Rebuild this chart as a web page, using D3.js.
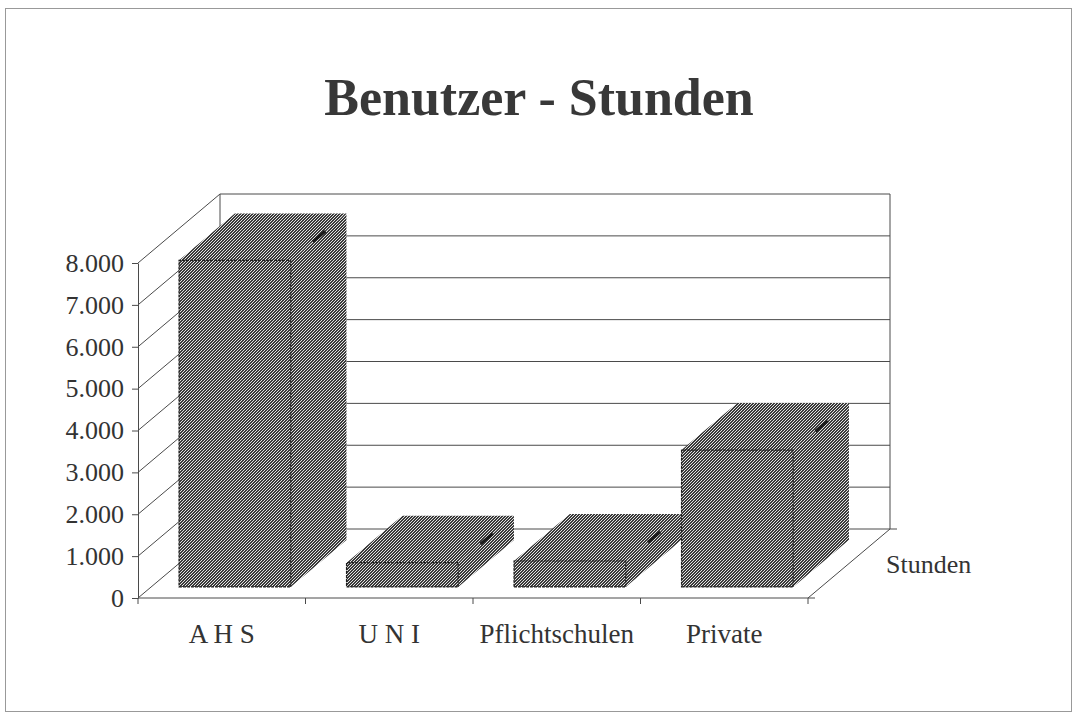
<!DOCTYPE html>
<html>
<head>
<meta charset="utf-8">
<script src="https://cdn.jsdelivr.net/npm/d3@7"></script>
<style>
  body { margin: 0; background: #fff; }
  text { font-family: "Liberation Serif", "Times New Roman", serif; fill: #333; }
</style>
</head>
<body>
<svg id="chart" width="1074" height="716"></svg>
<script>
// data
const categories = ['A H S', 'U N I', 'Pflichtschulen', 'Private'];
const stunden = [7800, 580, 620, 3270];
const seriesName = 'Stunden';
const yTicks = [0, 1000, 2000, 3000, 4000, 5000, 6000, 7000, 8000];
const title = 'Benutzer - Stunden';

const svg = d3.select('#chart');

// frame
svg.append('rect')
  .attr('x', 5.5).attr('y', 8.5)
  .attr('width', 1066).attr('height', 703)
  .attr('fill', 'none')
  .attr('stroke', '#999');

// hatch pattern ("/" lines, pixel aligned)
const defs = svg.append('defs');
const pat = defs.append('pattern')
  .attr('id', 'hatch')
  .attr('patternUnits', 'userSpaceOnUse')
  .attr('width', 3).attr('height', 3);
pat.append('rect').attr('width', 3).attr('height', 3).attr('fill', '#e2e2e2');
for (let px = 0; px < 3; px++) {
  for (let py = 0; py < 3; py++) {
    if ((px + py) % 3 !== 2) {
      pat.append('rect')
        .attr('x', px).attr('y', py).attr('width', 1).attr('height', 1)
        .attr('fill', '#3a3a3a')
        .attr('shape-rendering', 'crispEdges');
    }
  }
}

// 3D layout
const DX = 82, DY = -69;      // depth vector of the plot box
const zFront = 0.16, zBack = 0.84;  // depth span of the bars

const y = d3.scaleLinear().domain([0, 8000]).range([598, 263]);
const xCat = d3.scaleBand().domain(categories).range([138, 808]);
const xBar = d3.scaleBand().domain(categories).range([138, 808])
  .paddingInner(1 / 3).paddingOuter(1 / 6);

const P = (x, v, z) => [x + z * DX, y(v) + z * DY];
const poly = pts => 'M' + pts.map(p => p.join(',')).join('L') + 'Z';

const x0 = 138, x1 = 808;
const lineColor = '#4a4a4a';

const walls = svg.append('g').attr('class', 'walls')
  .attr('stroke', lineColor).attr('stroke-width', 1).attr('fill', 'none');

// back wall gridlines
walls.selectAll('line.back-grid')
  .data(yTicks)
  .join('line')
  .attr('class', 'back-grid')
  .attr('x1', P(x0, 0, 1)[0]).attr('x2', P(x1, 0, 1)[0])
  .attr('y1', d => P(x0, d, 1)[1]).attr('y2', d => P(x1, d, 1)[1]);

// side wall gridlines
walls.selectAll('line.side-grid')
  .data(yTicks)
  .join('line')
  .attr('class', 'side-grid')
  .attr('x1', d => P(x0, d, 0)[0]).attr('y1', d => P(x0, d, 0)[1])
  .attr('x2', d => P(x0, d, 1)[0]).attr('y2', d => P(x0, d, 1)[1]);

// back wall vertical edges
[x0, x1].forEach(xx => {
  walls.append('line')
    .attr('x1', P(xx, 0, 1)[0]).attr('y1', P(xx, 0, 1)[1])
    .attr('x2', P(xx, 8000, 1)[0]).attr('y2', P(xx, 8000, 1)[1]);
});

// floor right edge (depth axis)
walls.append('line')
  .attr('x1', P(x1, 0, 0)[0]).attr('y1', P(x1, 0, 0)[1])
  .attr('x2', P(x1, 0, 1)[0]).attr('y2', P(x1, 0, 1)[1]);
// depth axis ticks
[0, 1].forEach(z => {
  const p = P(x1, 0, z);
  walls.append('line')
    .attr('x1', p[0]).attr('y1', p[1]).attr('x2', p[0] + 7).attr('y2', p[1]);
});

// y axis
const fmt = d3.formatLocale({ decimal: ',', thousands: '.', grouping: [3], currency: ['', ' €'] }).format(',d');
const yAxis = svg.append('g')
  .attr('transform', `translate(${x0},0)`)
  .call(d3.axisLeft(y).tickValues(yTicks).tickSize(6).tickSizeOuter(0).tickPadding(8).tickFormat(fmt));
yAxis.select('.domain').attr('stroke', lineColor);
yAxis.selectAll('.tick line').attr('stroke', lineColor);
yAxis.selectAll('.tick text')
  .attr('fill', '#333')
  .style('font-family', '"Liberation Serif", "Times New Roman", serif')
  .style('font-size', '26px');

// x axis
const xg = svg.append('g');
xg.append('line')
  .attr('x1', x0).attr('x2', x1)
  .attr('y1', y(0)).attr('y2', y(0))
  .attr('stroke', lineColor);
xg.selectAll('line.xtick')
  .data(categories.map(c => xCat(c) + xCat.bandwidth()).concat([x0]))
  .join('line')
  .attr('class', 'xtick')
  .attr('x1', d => d).attr('x2', d => d)
  .attr('y1', y(0)).attr('y2', y(0) + 6)
  .attr('stroke', lineColor);
xg.selectAll('text')
  .data(categories)
  .join('text')
  .attr('x', d => xCat(d) + xCat.bandwidth() / 2)
  .attr('y', 643)
  .attr('text-anchor', 'middle')
  .style('font-size', '27px')
  .text(d => d);

// bars
const bars = svg.append('g').attr('class', 'bars');
categories.forEach((c, i) => {
  const v = stunden[i];
  const bx0 = xBar(c), bx1 = xBar(c) + xBar.bandwidth();
  const g = bars.append('g');
  // side face
  g.append('path')
    .attr('d', poly([P(bx1, 0, zFront), P(bx1, 0, zBack), P(bx1, v, zBack), P(bx1, v, zFront)]))
    .attr('fill', 'url(#hatch)');
  // top face
  g.append('path')
    .attr('d', poly([P(bx0, v, zFront), P(bx0, v, zBack), P(bx1, v, zBack), P(bx1, v, zFront)]))
    .attr('fill', 'url(#hatch)');
  // front face
  g.append('path')
    .attr('d', poly([P(bx0, 0, zFront), P(bx1, 0, zFront), P(bx1, v, zFront), P(bx0, v, zFront)]))
    .attr('fill', 'url(#hatch)')
    .attr('stroke', '#1e1e1e')
    .attr('stroke-width', 1.2)
    .attr('stroke-dasharray', '3,1');
  // short visible piece of the top/side edge
  const zm0 = zFront + (zBack - zFront) * 0.4, zm1 = zFront + (zBack - zFront) * 0.62;
  g.append('line')
    .attr('x1', P(bx1, v, zm0)[0]).attr('y1', P(bx1, v, zm0)[1])
    .attr('x2', P(bx1, v, zm1)[0]).attr('y2', P(bx1, v, zm1)[1])
    .attr('stroke', '#1a1a1a').attr('stroke-width', 3);
});

// series label on depth axis
svg.append('text')
  .attr('x', 886).attr('y', 573)
  .style('font-size', '26px')
  .text(seriesName);

// title
svg.append('text')
  .attr('x', 539).attr('y', 115)
  .attr('text-anchor', 'middle')
  .style('font-size', '52px')
  .style('font-weight', 'bold')
  .style('fill', '#383838')
  .text(title);
</script>
</body>
</html>
